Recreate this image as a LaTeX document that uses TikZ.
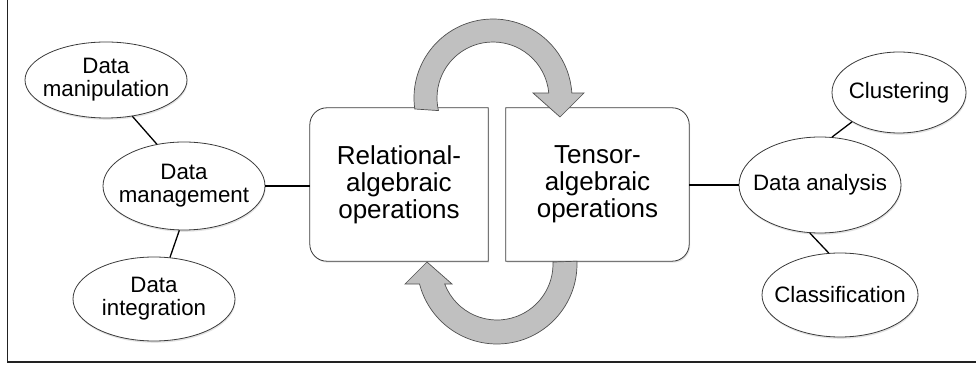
\documentclass[tikz,border=0pt]{standalone}
\usepackage{fontspec}
\setmainfont{Liberation Sans}
\usetikzlibrary{shapes.geometric,shadows,calc}
\definecolor{edge}{HTML}{3A3A3A}
\definecolor{frameedge}{HTML}{222222}
\definecolor{arrowgray}{HTML}{C0C0C0}
\definecolor{arrowedge}{HTML}{505050}
\pgfdeclarelayer{background}
\pgfsetlayers{background,main}
\begin{document}
\begin{tikzpicture}[x=1pt,y=1pt,
  oval/.style={ellipse, draw=edge, line width=0.8pt, fill=white, inner sep=0pt,
    drop shadow={opacity=0.22,shadow xshift=0.6pt,shadow yshift=-1.8pt}},
  ovaltext/.style={font=\fontsize{22.3}{23.2}\selectfont, align=center, inner sep=0pt},
  link/.style={draw=black, line width=1.3pt},
  opbox/.style={draw=edge, line width=0.8pt, fill=white,
    drop shadow={opacity=0.22,shadow xshift=1pt,shadow yshift=-1.5pt}},
  optext/.style={font=\fontsize{26}{27.2}\selectfont, align=center, inner sep=0pt,
    minimum width=178, minimum height=153},
  cyc/.style={draw=arrowedge, line width=0.7pt, fill=arrowgray},
  frame/.style={draw=frameedge, line width=1.3pt}
]
\useasboundingbox (0,0) rectangle (976,366);
\draw[frame] (7.5,366) -- (7.5,4) -- (976,4);

% operation boxes
\node[optext] (rel) at (399,181.5) {Relational-\\algebraic\\operations};
\node[optext, minimum width=183] (ten) at (597.5,181.5) {Tensor-\\algebraic\\operations};
\begin{pgfonlayer}{background}
\draw[opbox] (rel.north east) -- ([xshift=17]rel.north west)
  arc[start angle=90,end angle=180,radius=17] -- ([yshift=17]rel.south west)
  arc[start angle=180,end angle=270,radius=17] -- (rel.south east) -- cycle;
\draw[opbox] (ten.north west) -- ([xshift=-17]ten.north east)
  arc[start angle=90,end angle=0,radius=17] -- ([yshift=17]ten.south east)
  arc[start angle=0,end angle=-90,radius=17] -- (ten.south west) -- cycle;
\end{pgfonlayer}

% cycle arrows
\coordinate (c1) at (493,268);
\draw[cyc] ($(c1)+(188:79)$) arc[start angle=188,end angle=3.6,radius=79]
  -- (584,273) -- (560,249) -- (533,273) -- ($(c1)+(5.1:56)$)
  arc[start angle=5.1,end angle=193,radius=56] -- cycle;
\coordinate (c2) at (497,102);
\draw[cyc] ($(c2)+(2:80)$) arc[start angle=2,end angle=-165.5,radius=80]
  -- (405,82) -- (427,104) -- (452,82) -- ($(c2)+(-159:56)$)
  arc[start angle=-159,end angle=2,radius=56] -- cycle;

% left ellipses
\node[oval, minimum width=162, minimum height=76, label={[ovaltext]center:Data\\manipulation}] (manip) at (106,286) {};
\node[oval, minimum width=162, minimum height=88, label={[ovaltext]center:Data\\management}] (mgmt) at (184,180) {};
\node[oval, minimum width=162, minimum height=84, label={[ovaltext]center:Data\\integration}] (integ) at (154,67) {};
% right ellipses
\node[oval, minimum width=134, minimum height=81, label={[ovaltext]center:Clustering}] (clus) at (899,273.5) {};
\node[oval, minimum width=162, minimum height=96, label={[ovaltext]center:Data analysis}] (ana) at (820,181) {};
\node[oval, minimum width=156, minimum height=84, label={[ovaltext]center:Classification}] (clas) at (840,71) {};

% connectors
\draw[link] (manip.-54) -- (mgmt.123);
\draw[link] (mgmt.-96) -- (integ.69);
\draw[link] (mgmt.east) -- (mgmt.east -| rel.west);
\draw[link] (ana.west) -- (ana.west -| ten.east);
\draw[link] (ana.76) -- (clus.212);
\draw[link] (ana.-102) -- (clas.105);
\end{tikzpicture}
\end{document}
